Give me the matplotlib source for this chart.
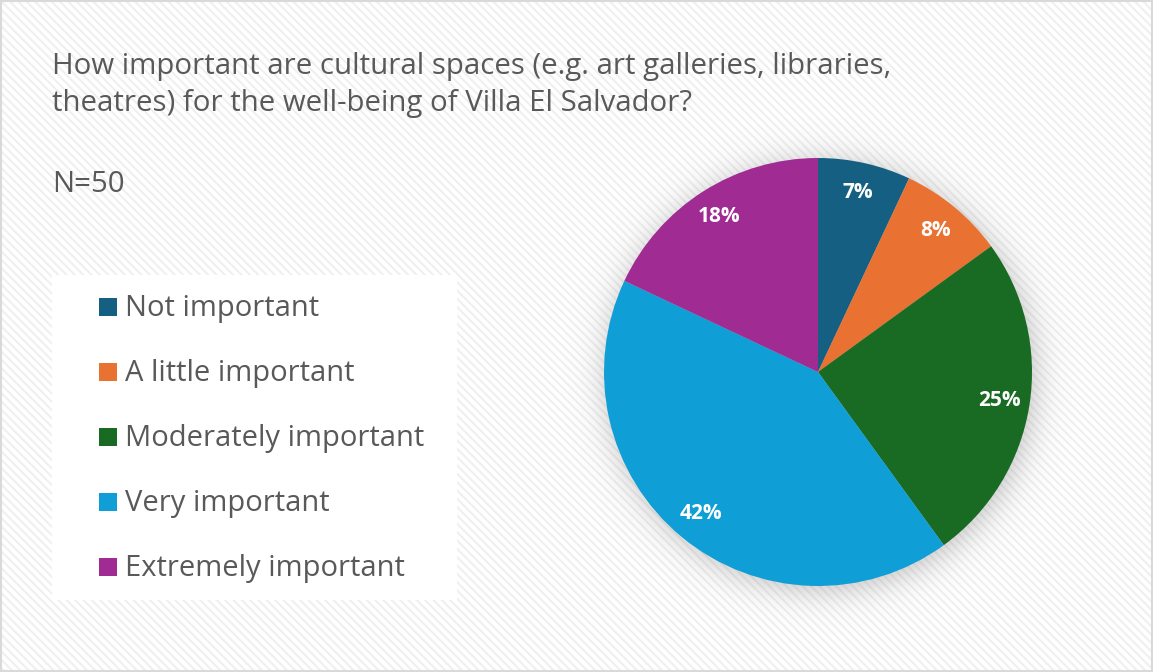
import numpy as np
import matplotlib.pyplot as plt
from matplotlib.patches import Rectangle

categories = ["Not important", "A little important", "Moderately important",
              "Very important", "Extremely important"]
shares = [7, 8, 25, 42, 18]
colors = ["#156082", "#E97132", "#196B24", "#0F9ED5", "#A02B93"]
title_lines = ["How important are cultural spaces (e.g. art galleries, libraries,",
               "theatres) for the well-being of Villa El Salvador?"]
note = "N=50"

W, H = 1153, 672
plt.rcParams['font.family'] = ['Open Sans', 'DejaVu Sans']
plt.rcParams['hatch.linewidth'] = 1.4
fig = plt.figure(figsize=(W / 100, H / 100), dpi=100)
text_col = '#595959'


def fx(x):
    return x / W


def fy(y):
    return 1 - y / H


# light diagonal stripes behind everything, plus a thin frame
fig.patches.append(Rectangle((0, 0), 1, 1, transform=fig.transFigure,
                             facecolor='white', edgecolor='#efefef',
                             hatch='\\\\\\\\', lw=0, zorder=-2))
fig.patches.append(Rectangle((fx(1), fy(H - 1)), fx(W - 2), 1 - 2 / H,
                             transform=fig.transFigure, fill=False,
                             edgecolor='#d9d9d9', lw=1.5, zorder=-1))

# title and sample size
for i, line in enumerate(title_lines):
    fig.text(fx(52), fy(74 + 37 * i), line, fontsize=21.2, color=text_col,
             va='baseline', ha='left')
fig.text(fx(52), fy(192), note, fontsize=21.2, color=text_col, va='baseline')

# legend panel
fig.patches.append(Rectangle((fx(52), fy(600)), fx(405), 325 / H,
                             transform=fig.transFigure, facecolor='white',
                             lw=0, zorder=-1))
for i, (cat, col) in enumerate(zip(categories, colors)):
    yc = 307 + 65 * i
    fig.patches.append(Rectangle((fx(99), fy(yc + 9)), fx(18), 18 / H,
                                 transform=fig.transFigure, facecolor=col,
                                 lw=0, zorder=1))
    fig.text(fx(125), fy(yc + 9), cat, fontsize=21, color=text_col,
             va='baseline', zorder=3)

# pie with a soft shadow
cx, cy, R = 818, 372, 214
half = 1.25 * R
ax = fig.add_axes([fx(cx - half), fy(cy + half), 2 * half / W, 2 * half / H])
ax.set_zorder(2)

g = np.linspace(-1.25, 1.25, 500)
gx, gy = np.meshgrid(g, g)
r = np.hypot(gx - 0.01, gy + 0.02)
alpha = 0.45 / (1 + np.exp((r - 1.0) / 0.045))
shadow = np.zeros(gx.shape + (4,))
shadow[..., :3] = 0.45
shadow[..., 3] = alpha
ax.imshow(shadow, extent=(-1.25, 1.25, -1.25, 1.25), origin='lower',
          interpolation='bilinear', zorder=0.5)

ax.pie(shares, colors=colors, startangle=90, counterclock=False, radius=1,
       autopct=lambda p: f'{p:.0f}%', pctdistance=0.86,
       wedgeprops=dict(linewidth=0),
       textprops=dict(color='white', fontsize=15, fontweight='bold'))
ax.set_xlim(-1.25, 1.25)
ax.set_ylim(-1.25, 1.25)
ax.set_aspect('equal')
ax.axis('off')

fig.savefig('out.png', dpi=100)
